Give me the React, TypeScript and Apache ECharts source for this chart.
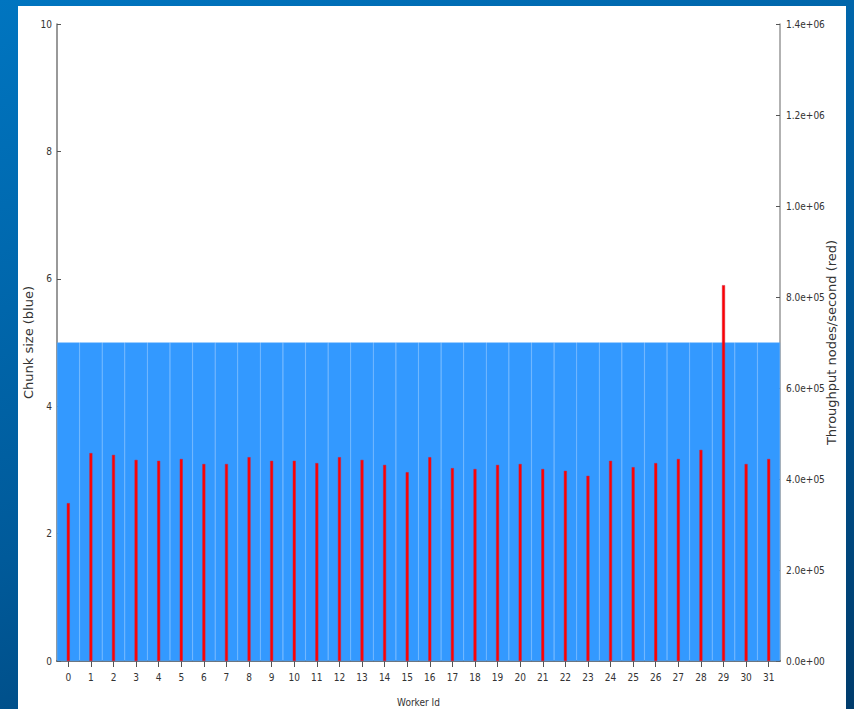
import React, { useEffect, useRef } from "react";
import * as echarts from "echarts";

const workers: string[] = Array.from({ length: 32 }, (_, i) => String(i));
const chunkSize: number[] = [
  5, 5, 5, 5, 5, 5, 5, 5, 5, 5, 5, 5, 5, 5, 5, 5,
  5, 5, 5, 5, 5, 5, 5, 5, 5, 5, 5, 5, 5, 5, 5, 5,
];
const throughput: number[] = [
  347000, 457000, 453000, 442000, 440000, 444000, 433000, 433000,
  448000, 440000, 440000, 435000, 448000, 442000, 431000, 415000,
  448000, 424000, 422000, 431000, 433000, 422000, 418000, 407000,
  440000, 426000, 435000, 444000, 464000, 826000, 433000, 444000,
];

const FONT = "'DejaVu Sans Condensed', 'DejaVu Sans', sans-serif";
const TITLE_FONT = "'DejaVu Sans', sans-serif";

function expFmt(v: number): string {
  const s = v.toExponential(1);
  const [m, e] = s.split("e");
  const sign = e[0] === "-" ? "-" : "+";
  const digits = e.replace(/[+-]/, "").padStart(2, "0");
  return `${m}e${sign}${digits}`;
}

export default function App() {
  const ref = useRef<HTMLDivElement>(null);
  useEffect(() => {
    document.body.style.margin = "0";
    if (!ref.current) return;
    const chart = echarts.init(ref.current, undefined, { renderer: "svg" });
    chart.setOption({
      animation: false,
      backgroundColor: "transparent",
      grid: { left: 57, top: 24, right: 74, bottom: 48, outerBoundsMode: "none", containLabel: false },
      xAxis: [
        {
          type: "category",
          data: workers,
          position: "bottom",
          axisLine: { lineStyle: { color: "#222", width: 1.5 } },
          axisTick: { show: false },
          axisLabel: { color: "#333", fontSize: 10, fontFamily: FONT, margin: 11 },
          name: "Worker Id",
          nameLocation: "middle",
          nameGap: 36,
          nameMoveOverlap: false,
          nameTextStyle: { color: "#333", fontSize: 10, fontFamily: FONT },
        },
        {
          type: "category",
          data: workers,
          position: "top",
          axisLine: { lineStyle: { color: "#777", width: 1.5 } },
          axisTick: { show: true, inside: true, alignWithLabel: true, length: 6, lineStyle: { color: "#555" } },
          axisLabel: { show: false },
        },
      ],
      yAxis: [
        {
          type: "value",
          min: 0,
          max: 10,
          interval: 2,
          position: "left",
          splitLine: { show: false },
          axisLine: { show: true, lineStyle: { color: "#777", width: 1.5 } },
          axisTick: { show: true, inside: true, length: 4, lineStyle: { color: "#555" } },
          axisLabel: { color: "#333", fontSize: 10, fontFamily: FONT, margin: 5 },
          name: "Chunk size (blue)",
          nameLocation: "middle",
          nameRotate: 90,
          nameGap: 22,
          nameMoveOverlap: false,
          nameTextStyle: { color: "#333", fontSize: 13, fontFamily: TITLE_FONT },
        },
        {
          type: "value",
          min: 0,
          max: 1400000,
          interval: 200000,
          position: "right",
          splitLine: { show: false },
          axisLine: { show: true, lineStyle: { color: "#999", width: 1.5 } },
          axisTick: { show: true, inside: true, length: 4, lineStyle: { color: "#555" } },
          axisLabel: { color: "#333", fontSize: 10, fontFamily: FONT, margin: 6, formatter: (v: number) => expFmt(v) },
          name: "Throughput nodes/second (red)",
          nameLocation: "middle",
          nameRotate: 90,
          nameGap: 45,
          nameMoveOverlap: false,
          nameTextStyle: { color: "#333", fontSize: 13, fontFamily: TITLE_FONT },
        },
      ],
      series: [
        {
          type: "bar",
          xAxisIndex: 0,
          yAxisIndex: 0,
          data: chunkSize,
          barWidth: "100%",
          itemStyle: { color: "#3399ff", borderColor: "#55a9ff", borderWidth: 0.5 },
          z: 2,
        },
        {
          type: "bar",
          xAxisIndex: 1,
          yAxisIndex: 1,
          data: throughput,
          barWidth: 3,
          itemStyle: { color: "#ff0000", borderColor: "#d0203a", borderWidth: 0.5 },
          z: 3,
        },
      ],
    });
    return () => chart.dispose();
  }, []);

  return (
    <div
      style={{
        position: "fixed",
        left: 0,
        top: 0,
        width: 854,
        height: 709,
        background: "linear-gradient(160deg, #0075c0 0%, #005a9a 55%, #003c6c 100%)",
        overflow: "hidden",
      }}
    >
      <div style={{ position: "absolute", left: 18, top: 6, width: 828, height: 703, background: "#fff" }} />
      <div ref={ref} style={{ position: "absolute", left: 0, top: 0, width: 854, height: 709 }} />
    </div>
  );
}
